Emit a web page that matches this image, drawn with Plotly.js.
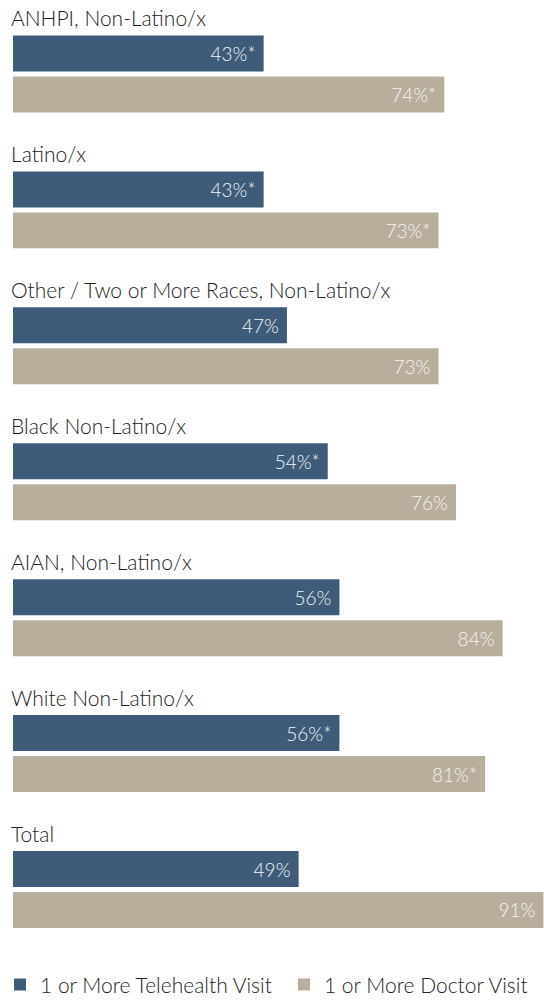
<!DOCTYPE html>
<html><head><meta charset="utf-8">
<script src="https://cdn.plot.ly/plotly-3.0.1.min.js"></script>
<style>html,body{margin:0;padding:0;background:#fff}#chart{width:544px;height:1002px}</style>
</head><body><div id="chart"></div>
<script>
const categories = ["ANHPI, Non-Latino/x","Latino/x","Other / Two or More Races, Non-Latino/x","Black Non-Latino/x","AIAN, Non-Latino/x","White Non-Latino/x","Total"];
const telehealth = [43,43,47,54,56,56,49];
const telehealthLabels = ["43%*","43%*","47%","54%*","56%","56%*","49%"];
const doctor = [74,73,73,76,84,81,91];
const doctorLabels = ["74%*","73%*","73%","76%","84%","81%*","91%"];
const seriesNames = ["1 or More Telehealth Visit","1 or More Doctor Visit"];

const FONT = "Lato, 'Open Sans', sans-serif";
const textFont = {family: FONT, size: 19, color: "#f4f4f4", weight: 300};
const legendFont = {family:FONT, size:21, color:"#222222", weight:300};

const traces = [
  {type:"bar", orientation:"h", name:seriesNames[0], y:categories, x:telehealth, text:telehealthLabels,
   texttemplate:"%{text}\u00a0", textposition:"inside", insidetextanchor:"end", textangle:0,
   insidetextfont:textFont, marker:{color:"#3e5c7a"}, hoverinfo:"skip", cliponaxis:false, legend:"legend"},
  {type:"bar", orientation:"h", name:seriesNames[1], y:categories, x:doctor, text:doctorLabels,
   texttemplate:"%{text}\u00a0", textposition:"inside", insidetextanchor:"end", textangle:0,
   insidetextfont:textFont, marker:{color:"#b9ae9c"}, hoverinfo:"skip", cliponaxis:false, legend:"legend2"}
];

const annotations = categories.map(c => ({
  text:c, x:0, xref:"paper", xanchor:"left", xshift:-4, y:c, yref:"y", yanchor:"middle", yshift:56,
  showarrow:false, font:{family:FONT, size:21, color:"#222222", weight:300}
}));

const layout = {
  width:544, height:1002,
  margin:{l:13, r:0, t:6, b:42, pad:0, autoexpand:false},
  paper_bgcolor:"#ffffff", plot_bgcolor:"#ffffff",
  barmode:"group", bargap:0.397, bargroupgap:0.122,
  showlegend:true,
  legend:{orientation:"h", x:0, xref:"container", xanchor:"left", y:0.017, yref:"container", yanchor:"middle",
          font:legendFont, itemclick:false},
  legend2:{orientation:"h", x:0.522, xref:"container", xanchor:"left", y:0.017, yref:"container", yanchor:"middle",
          font:legendFont, itemclick:false},
  xaxis:{range:[0, 91.1], visible:false, fixedrange:true},
  yaxis:{autorange:"reversed", visible:false, fixedrange:true, type:"category"},
  annotations:annotations
};
Plotly.newPlot("chart", traces, layout, {displayModeBar:false, staticPlot:true});
</script></body></html>
